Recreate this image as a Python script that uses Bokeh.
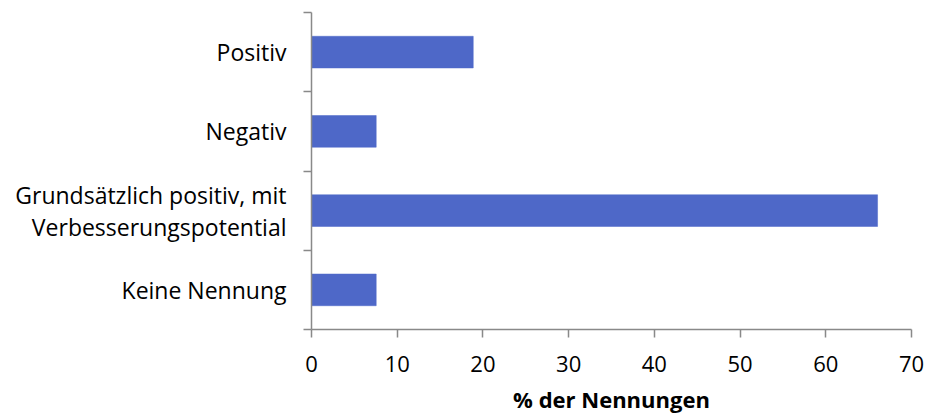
from bokeh.plotting import figure
from bokeh.models import FixedTicker, ColumnDataSource
from bokeh.embed import file_html
from bokeh.resources import INLINE

categories = ["Positiv", "Negativ", "Grundsätzlich positiv, mit\nVerbesserungspotential", "Keine Nennung"]
values = [18.87, 7.55, 66.04, 7.55]
x_ticks = [0, 10, 20, 30, 40, 50, 60, 70]

n = len(categories)
ypos = [n - i - 0.5 for i in range(n)]
src = ColumnDataSource(dict(y=ypos, v=values))

FONT = "Open Sans"
AXIS_COLOR = "#898989"

p = figure(width=928, height=416, output_backend="svg", toolbar_location=None,
           x_range=(0, 70), y_range=(0, n),
           min_border_left=311, min_border_right=17, min_border_top=12, min_border_bottom=86)
p.hbar(y="y", left=0, right="v", height=0.4, source=src,
       fill_color="#4E68C8", line_color="#4E68C8", line_width=0.5)

p.xgrid.visible = False
p.ygrid.visible = False
p.outline_line_color = None

xa = p.xaxis[0]
xa.ticker = FixedTicker(ticks=x_ticks)
xa.axis_line_color = AXIS_COLOR
xa.axis_line_width = 1.5
xa.major_tick_line_color = AXIS_COLOR
xa.major_tick_line_width = 1.5
xa.major_tick_in = 0
xa.major_tick_out = 8
xa.minor_tick_line_color = None
xa.major_label_text_font = FONT
xa.major_label_text_font_size = "22px"
xa.major_label_text_color = "black"
xa.major_label_standoff = 18
xa.axis_label = "% der Nennungen"
xa.axis_label_text_font = FONT
xa.axis_label_text_font_size = "22px"
xa.axis_label_text_font_style = "bold"
xa.axis_label_text_color = "black"
xa.axis_label_standoff = 9

ya = p.yaxis[0]
ya.ticker = FixedTicker(ticks=ypos, minor_ticks=[float(i) for i in range(n + 1)])
ya.major_label_overrides = {y: c for y, c in zip(ypos, categories)}
ya.axis_line_color = AXIS_COLOR
ya.axis_line_width = 1.5
ya.major_tick_line_color = None
ya.major_tick_in = 0
ya.major_tick_out = 8
ya.minor_tick_line_color = AXIS_COLOR
ya.minor_tick_line_width = 1.5
ya.minor_tick_in = 0
ya.minor_tick_out = 8
ya.major_label_text_font = FONT
ya.major_label_text_font_size = "23px"
ya.major_label_text_line_height = 1.0
ya.major_label_text_color = "black"
ya.major_label_standoff = 17
ya.major_label_text_align = "center"

open("out.html", "w").write(file_html(p, INLINE))
